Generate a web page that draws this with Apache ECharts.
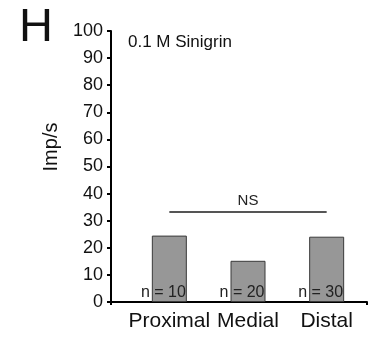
<!DOCTYPE html>
<html><head><meta charset="utf-8">
<script src="https://cdn.jsdelivr.net/npm/echarts@6/dist/echarts.min.js"></script>
<style>html,body{margin:0;padding:0;background:#fff}#c{width:371px;height:338px}</style>
</head><body><div id="c"></div>
<script>
const categories = ['Proximal', 'Medial', 'Distal'];
const values = [24.5, 15.2, 24.1];
const nLabels = ['n = 10', 'n = 20', 'n = 30'];
const yTicks = [0, 100, 10];
const sigLevel = 33.2;
const sigText = 'NS';
const panelLetter = 'H';
const stimulus = '0.1 M Sinigrin';
const yName = 'Imp/s';

const font = 'Liberation Sans, Arial, sans-serif';
const chart = echarts.init(document.getElementById('c'), null, {renderer: 'canvas'});
chart.setOption({
  animation: false,
  backgroundColor: '#fff',
  grid: [
    {left: 111, right: 4, top: 31, bottom: 36},
    {left: 130, width: 236, top: 31, bottom: 36}
  ],
  xAxis: [
    {gridIndex: 0, type: 'value', min: 0, max: 1, interval: 1,
     axisLine: {show: true, lineStyle: {color: '#000', width: 2}},
     axisTick: {show: true, length: 3, lineStyle: {color: '#000', width: 2}},
     axisLabel: {show: false}, splitLine: {show: false}},
    {gridIndex: 1, type: 'category', data: categories,
     axisLine: {show: false}, axisTick: {show: false},
     axisLabel: {color: '#111', fontSize: 21, fontFamily: font, margin: 9,
       interval: 0, hideOverlap: false}}
  ],
  yAxis: [
    {gridIndex: 0, type: 'value', min: yTicks[0], max: yTicks[1], interval: yTicks[2],
     axisLine: {show: true, lineStyle: {color: '#000', width: 2}},
     axisTick: {show: true, length: 4, lineStyle: {color: '#000', width: 2}},
     axisLabel: {color: '#111', fontSize: 18, fontFamily: font, margin: 8},
     splitLine: {show: false}},
    {gridIndex: 1, type: 'value', min: yTicks[0], max: yTicks[1], show: false}
  ],
  series: [{
    type: 'bar', xAxisIndex: 1, yAxisIndex: 1,
    data: values, barWidth: 35,
    itemStyle: {color: '#979797', borderColor: '#3a3a3a', borderWidth: 1},
    label: {show: true, position: 'insideBottomRight', distance: 1,
      formatter: p => nLabels[p.dataIndex],
      color: '#222', fontSize: 16, fontFamily: font},
    markLine: {
      silent: true, symbol: 'none',
      lineStyle: {color: '#555', width: 2, type: 'solid'},
      label: {show: true, position: 'middle', formatter: sigText, color: '#222',
        fontSize: 15, fontFamily: font, distance: 4},
      data: [[{coord: [categories[0], sigLevel]}, {coord: [categories[2], sigLevel]}]]
    }
  }],
  graphic: [
    {type: 'text', left: 19, top: 5, style: {text: panelLetter, fill: '#111', font: '47px ' + font}},
    {type: 'text', left: 128, top: 34, style: {text: stimulus, fill: '#111', font: '17px ' + font}},
    {type: 'text', x: 51, y: 147, rotation: Math.PI / 2,
     style: {text: yName, fill: '#111', font: '20px ' + font, textAlign: 'center', textVerticalAlign: 'middle'}}
  ]
});
</script></body></html>
